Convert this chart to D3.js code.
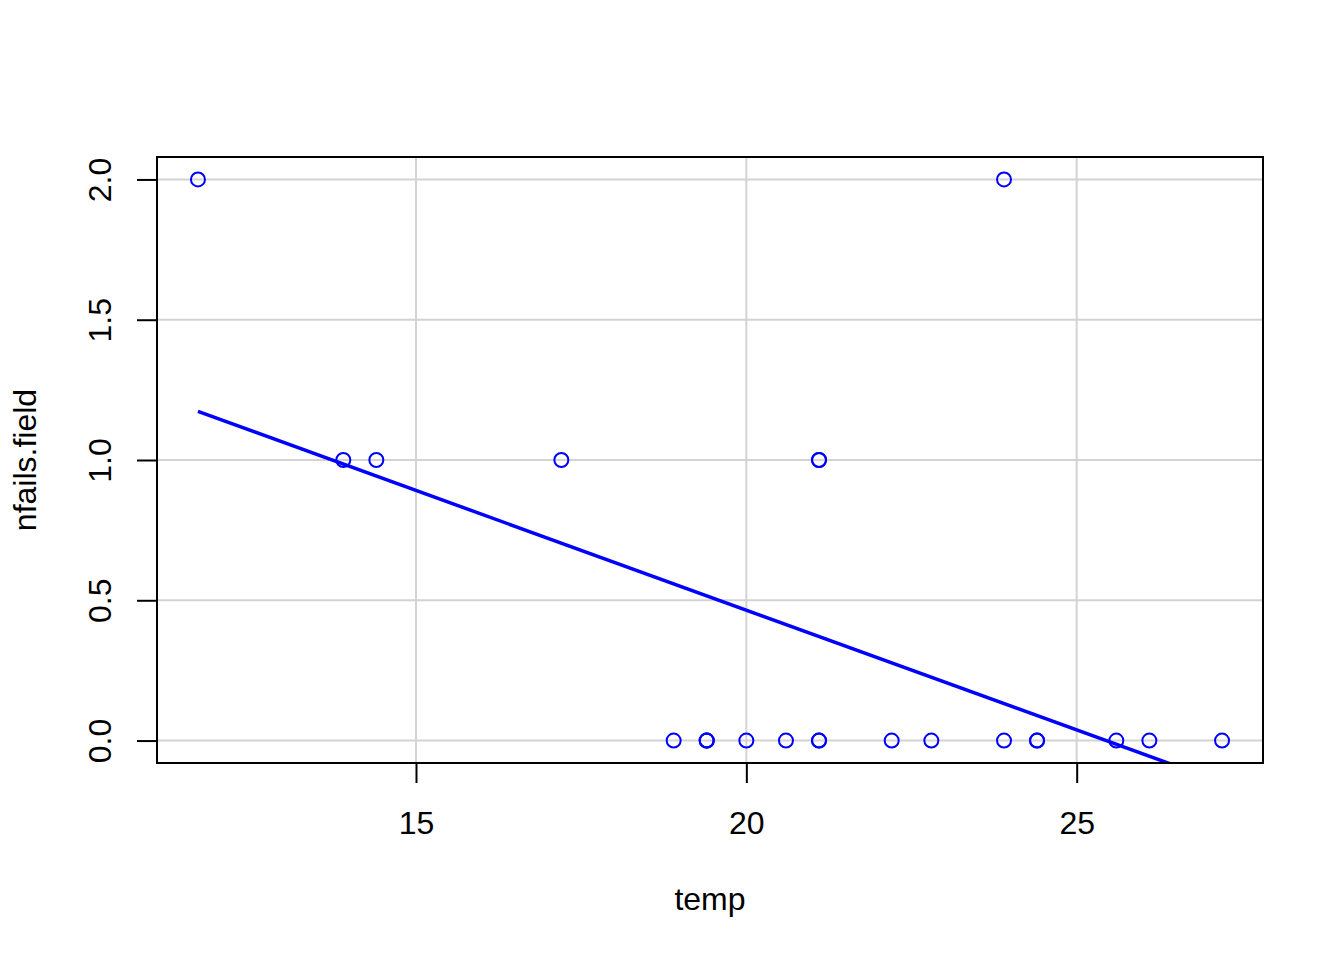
<!DOCTYPE html>
<html>
<head>
<meta charset="utf-8">
<script src="https://cdn.jsdelivr.net/npm/d3@7"></script>
<style>
  body { margin: 0; background: #fff; }
  text { font-family: "Liberation Sans", Arial, sans-serif; fill: #000; }
</style>
</head>
<body>
<svg width="1344" height="960"></svg>
<script>
// challenger data, temperature in deg C and field O-ring failures
const temp = [18.9, 21.1, 20.6, 20.0, 19.4, 22.2, 22.8, 21.1, 13.9, 17.2, 21.1, 25.6,
  19.4, 11.7, 19.4, 23.9, 21.1, 27.2, 24.4, 26.1, 23.9, 24.4, 14.4];
const nfails = [0, 1, 0, 0, 0, 0, 0, 0, 1, 1, 1, 0, 0, 2, 0, 0, 0, 0, 0, 0, 2, 0, 1];

const xTicks = [15, 20, 25];
const yTicks = [0, 0.5, 1, 1.5, 2];

const svg = d3.select("svg");
const margin = { left: 157, right: 81, top: 157, bottom: 197 };
const width = 1344, height = 960;

// R style 4% extension of the data range
const xr = d3.extent(temp);
const yr = d3.extent(nfails);
const xPad = (xr[1] - xr[0]) * 0.04;
const yPad = (yr[1] - yr[0]) * 0.04;

const x = d3.scaleLinear()
  .domain([xr[0] - xPad, xr[1] + xPad])
  .range([margin.left, width - margin.right]);
const y = d3.scaleLinear()
  .domain([yr[0] - yPad, yr[1] + yPad])
  .range([height - margin.bottom, margin.top]);

// least squares fit nfails ~ temp
const mx = d3.mean(temp), my = d3.mean(nfails);
let sxy = 0, sxx = 0;
temp.forEach(function (t, i) {
  sxy += (t - mx) * (nfails[i] - my);
  sxx += (t - mx) * (t - mx);
});
const slope = sxy / sxx;
const intercept = my - slope * mx;

svg.append("clipPath").attr("id", "plot")
  .append("rect")
  .attr("x", margin.left).attr("y", margin.top)
  .attr("width", width - margin.left - margin.right)
  .attr("height", height - margin.top - margin.bottom);

// grid
const grid = svg.append("g").attr("stroke", "#d3d3d3").attr("stroke-width", 2);
grid.selectAll(".gx").data(xTicks).enter().append("line")
  .attr("x1", d => x(d)).attr("x2", d => x(d))
  .attr("y1", margin.top).attr("y2", height - margin.bottom);
grid.selectAll(".gy").data(yTicks).enter().append("line")
  .attr("y1", d => y(d)).attr("y2", d => y(d))
  .attr("x1", margin.left).attr("x2", width - margin.right);

// points
svg.append("g").selectAll("circle")
  .data(temp.map((t, i) => ({ t: t, n: nfails[i] })))
  .enter().append("circle")
  .attr("cx", d => x(d.t))
  .attr("cy", d => y(d.n))
  .attr("r", 7)
  .attr("fill", "none")
  .attr("stroke", "#0000ff")
  .attr("stroke-width", 2);

// fitted line over the data range
const fit = [xr[0], xr[1]].map(t => [x(t), y(intercept + slope * t)]);
svg.append("path")
  .attr("clip-path", "url(#plot)")
  .attr("d", d3.line()(fit))
  .attr("fill", "none")
  .attr("stroke", "#0000ff")
  .attr("stroke-width", 3.5);

// box
svg.append("rect")
  .attr("x", margin.left).attr("y", margin.top)
  .attr("width", width - margin.left - margin.right)
  .attr("height", height - margin.top - margin.bottom)
  .attr("fill", "none").attr("stroke", "#000").attr("stroke-width", 2);

// axes
const xAxis = svg.append("g")
  .attr("transform", "translate(0," + (height - margin.bottom) + ")")
  .call(d3.axisBottom(x).tickValues(xTicks).tickSize(20).tickPadding(28).tickFormat(d3.format("d")));
const yAxis = svg.append("g")
  .attr("transform", "translate(" + margin.left + ",0)")
  .call(d3.axisLeft(y).tickValues(yTicks).tickSize(20).tickFormat(d3.format(".1f")));

[xAxis, yAxis].forEach(function (a) {
  a.select(".domain").remove();
  a.selectAll(".tick line").attr("stroke", "#000").attr("stroke-width", 2);
  a.selectAll("text").style("font-family", "'Liberation Sans', Arial, sans-serif")
    .style("font-size", "32px").attr("fill", "#000");
});

yAxis.selectAll(".tick text")
  .attr("x", null).attr("dy", null)
  .attr("text-anchor", "middle")
  .attr("transform", "translate(-46,0) rotate(-90)");

// axis titles
svg.append("text")
  .attr("x", (margin.left + width - margin.right) / 2)
  .attr("y", 910)
  .attr("text-anchor", "middle")
  .style("font-size", "32px")
  .text("temp");

svg.append("text")
  .attr("transform", "translate(36," + ((margin.top + height - margin.bottom) / 2) + ") rotate(-90)")
  .attr("text-anchor", "middle")
  .style("font-size", "32px")
  .text("nfails.field");
</script>
</body>
</html>
